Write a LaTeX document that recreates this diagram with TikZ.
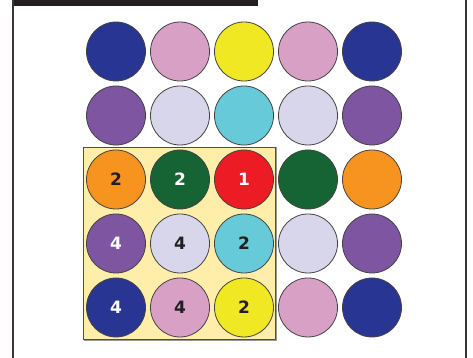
\documentclass[tikz,border=0pt]{standalone}
\usepackage{fontspec}
\setmainfont{DejaVu Sans}
\definecolor{navy}{HTML}{283593}
\definecolor{pinkc}{HTML}{D9A0C6}
\definecolor{yel}{HTML}{EFE822}
\definecolor{lav}{HTML}{D8D6EA}
\definecolor{purp}{HTML}{7E55A0}
\definecolor{cyanc}{HTML}{66CAD8}
\definecolor{dgreen}{HTML}{166334}
\definecolor{orangec}{HTML}{F7941F}
\definecolor{redc}{HTML}{ED1C24}
\definecolor{boxfill}{HTML}{FFEEAA}
\definecolor{ink}{HTML}{231F20}
\begin{document}
\begin{tikzpicture}[x=1pt,y=1pt,
  ball/.style={circle,draw=ink!85,line width=0.8pt,minimum size=59pt,inner sep=0pt,
    font=\fontsize{17}{17}\selectfont\bfseries},
  dk/.style={text=ink},
  wt/.style={text=white}]
\useasboundingbox (0,0) rectangle (473,358);
% frame
\fill[ink] (12,358) rectangle (258,352);
\draw[ink!90,line width=2pt] (12.5,358) -- (12.5,0);
\draw[ink!90,line width=2pt] (465.5,358) -- (465.5,0);
% highlight box
\draw[gray!80,line width=1.6pt] (84.5,18) rectangle (276.5,210);
\draw[ink!80,fill=boxfill,line width=0.8pt] (83.5,19) rectangle (275.5,211);
% row 1
\node[ball,fill=navy]   (a1) at (116,306.5) {};
\node[ball,fill=pinkc]  (a2) at (180,306.5) {};
\node[ball,fill=yel]    (a3) at (244,306.5) {};
\node[ball,fill=pinkc]  (a4) at (308,306.5) {};
\node[ball,fill=navy]   (a5) at (372,306.5) {};
% row 2
\node[ball,fill=purp]   (b1) at (116,242.5) {};
\node[ball,fill=lav]    (b2) at (180,242.5) {};
\node[ball,fill=cyanc]  (b3) at (244,242.5) {};
\node[ball,fill=lav]    (b4) at (308,242.5) {};
\node[ball,fill=purp]   (b5) at (372,242.5) {};
% row 3
\node[ball,fill=orangec,dk] (c1) at (116,178.5) {2};
\node[ball,fill=dgreen,wt]  (c2) at (180,178.5) {2};
\node[ball,fill=redc,wt]    (c3) at (244,178.5) {1};
\node[ball,fill=dgreen]     (c4) at (308,178.5) {};
\node[ball,fill=orangec]    (c5) at (372,178.5) {};
% row 4
\node[ball,fill=purp,wt]    (d1) at (116,114.5) {4};
\node[ball,fill=lav,dk]     (d2) at (180,114.5) {4};
\node[ball,fill=cyanc,dk]   (d3) at (244,114.5) {2};
\node[ball,fill=lav]        (d4) at (308,114.5) {};
\node[ball,fill=purp]       (d5) at (372,114.5) {};
% row 5
\node[ball,fill=navy,wt]    (e1) at (116,50.5) {4};
\node[ball,fill=pinkc,dk]   (e2) at (180,50.5) {4};
\node[ball,fill=yel,dk]     (e3) at (244,50.5) {2};
\node[ball,fill=pinkc]      (e4) at (308,50.5) {};
\node[ball,fill=navy]       (e5) at (372,50.5) {};
\end{tikzpicture}
\end{document}
